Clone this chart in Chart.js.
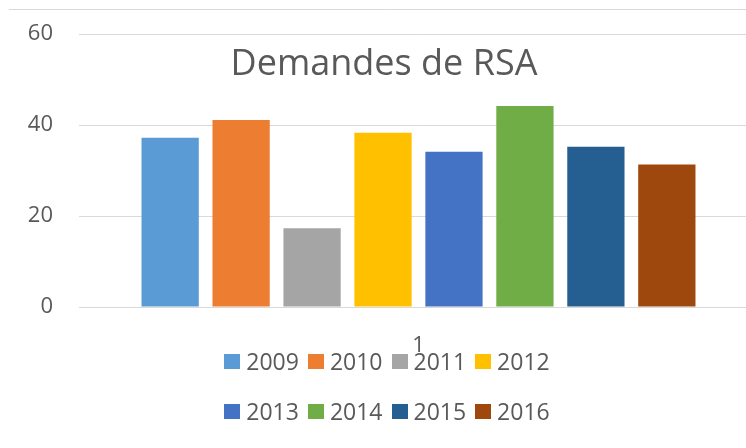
<!DOCTYPE html>
<html>
<head>
<meta charset="utf-8">
<script src="https://cdn.jsdelivr.net/npm/chart.js@4/dist/chart.umd.min.js"></script>
<style>
  html, body { margin: 0; padding: 0; background: #ffffff; }
  #wrap { position: relative; width: 746px; height: 448px; overflow: hidden; background: #fff; }
  #c { display: block; }
</style>
</head>
<body>
<div id="wrap"><canvas id="c" width="770" height="448" style="width:770px;height:448px"></canvas></div>
<script>
const chartTitle = 'Demandes de RSA';
const categories = ['1'];
const years = ['2009', '2010', '2011', '2012', '2013', '2014', '2015', '2016'];
const values = [37.2, 41.1, 17.3, 38.3, 34.1, 44.2, 35.2, 31.3];
const yMin = 0, yMax = 60, yStep = 20;
const colors = ['#5B9BD5', '#ED7D31', '#A5A5A5', '#FFC000', '#4472C4', '#70AD47', '#255E91', '#9E480E'];

const FONT = '"Open Sans", "DejaVu Sans", sans-serif';
const TEXT = '#595959';
const GRID = '#d9d9d9';

const datasets = years.map((y, i) => ({
  label: y,
  data: [values[i]],
  backgroundColor: colors[i],
  borderWidth: 0,
  categoryPercentage: 0.836,
  barPercentage: 0.807
}));

const decorPlugin = {
  id: 'decor',
  beforeDraw(chart) {
    const ctx = chart.ctx;
    ctx.save();
    ctx.strokeStyle = GRID;
    ctx.lineWidth = 1;
    ctx.beginPath();
    ctx.moveTo(9, 9.5);
    ctx.lineTo(chart.width, 9.5);
    ctx.stroke();
    ctx.restore();
  },
  afterDraw(chart) {
    const ctx = chart.ctx;
    const area = chart.chartArea;
    ctx.save();
    // overlay title
    ctx.fillStyle = TEXT;
    ctx.font = '36px ' + FONT;
    ctx.textAlign = 'center';
    ctx.textBaseline = 'alphabetic';
    ctx.fillText(chartTitle, 384, area.top + 41);

    // legend: two rows of four
    ctx.font = '23px ' + FONT;
    ctx.textAlign = 'left';
    ctx.textBaseline = 'middle';
    const box = 16, gapText = 6, gapItem = 9, perRow = 4;
    const centerX = 387;
    const rowY = [area.bottom + 55, area.bottom + 105];
    const items = chart.data.datasets.map(d => ({ text: d.label, color: d.backgroundColor }));
    for (let r = 0; r * perRow < items.length; r++) {
      const row = items.slice(r * perRow, r * perRow + perRow);
      const widths = row.map(it => box + gapText + ctx.measureText(it.text).width);
      const total = widths.reduce((a, b) => a + b, 0) + gapItem * (row.length - 1);
      let x = centerX - total / 2;
      const y = rowY[r];
      row.forEach((it, k) => {
        ctx.fillStyle = it.color;
        ctx.fillRect(Math.round(x), Math.round(y - box / 2), box, box - 1);
        ctx.fillStyle = TEXT;
        ctx.fillText(it.text, x + box + gapText, y + 1);
        x += widths[k] + gapItem;
      });
    }
    ctx.restore();
  }
};

new Chart(document.getElementById('c'), {
  type: 'bar',
  data: { labels: categories, datasets },
  options: {
    responsive: false,
    maintainAspectRatio: false,
    devicePixelRatio: 1,
    animation: false,
    layout: { padding: { top: 34, bottom: 96, left: 0, right: 12 } },
    plugins: {
      legend: { display: false },
      title: { display: false },
      tooltip: { enabled: false }
    },
    scales: {
      x: {
        grid: { display: false, drawTicks: false },
        border: { display: false },
        ticks: { color: TEXT, font: { family: FONT, size: 22 }, padding: 26 },
        afterFit(scale) { scale.height = 45; }
      },
      y: {
        min: yMin, max: yMax,
        grid: { color: GRID, lineWidth: 1, drawTicks: false },
        border: { display: false },
        ticks: { stepSize: yStep, color: TEXT, font: { family: FONT, size: 22 }, padding: 26 },
        afterFit(scale) { scale.width = 79; scale.paddingTop = 0; scale.paddingBottom = 0; }
      }
    }
  },
  plugins: [decorPlugin]
});
</script>
</body>
</html>
